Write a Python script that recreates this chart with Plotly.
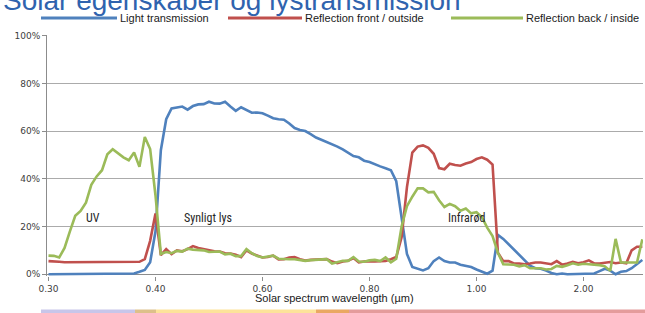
import plotly.graph_objects as go

# ---------------- data ----------------
wavelength_um = [
    0.300, 0.305, 0.310, 0.315, 0.320, 0.325, 0.330, 0.335, 0.340, 0.345,
    0.350, 0.355, 0.360, 0.365, 0.370, 0.375, 0.380, 0.385, 0.390, 0.395,
    0.40, 0.41, 0.42, 0.43, 0.44, 0.45, 0.46, 0.47, 0.48, 0.49,
    0.50, 0.51, 0.52, 0.53, 0.54, 0.55, 0.56, 0.57, 0.58, 0.59,
    0.60, 0.61, 0.62, 0.63, 0.64, 0.65, 0.66, 0.67, 0.68, 0.69,
    0.70, 0.71, 0.72, 0.73, 0.74, 0.75, 0.76, 0.77, 0.78, 0.79,
    0.80, 0.81, 0.82, 0.83, 0.84, 0.85, 0.86, 0.87, 0.88, 0.89,
    0.90, 0.91, 0.92, 0.93, 0.94, 0.95, 0.96, 0.97, 0.98, 0.99,
    1.00, 1.05, 1.10, 1.15, 1.20, 1.25, 1.30, 1.35, 1.40, 1.45,
    1.50, 1.55, 1.60, 1.65, 1.70, 1.75, 1.80, 1.85, 1.90, 1.95,
    2.00, 2.05, 2.10, 2.15, 2.20, 2.25, 2.30, 2.35, 2.40, 2.45,
    2.50, 2.55,
]

light_transmission = [
    0, 0, 0, 0, 0, 0, 0, 0, 0, 0,
    0, 0, 0, 0, 0, 0, 0.3, 1.0, 1.8, 5.0,
    18.0, 52.0, 65.0, 69.5, 70.0, 70.3, 69.0, 70.5, 71.2, 71.3,
    72.3, 71.6, 71.5, 72.3, 70.3, 68.5, 70.0, 69.0, 67.7, 67.8,
    67.5, 66.5, 65.4, 65.0, 64.8, 63.2, 61.3, 60.5, 60.0, 58.7,
    57.3, 56.4, 55.5, 54.4, 53.5, 52.3, 50.9, 49.5, 49.0, 47.6,
    47.0, 46.0, 45.2, 44.4, 43.6, 39.0, 24.0, 8.5, 3.0, 2.2,
    1.6, 2.5, 5.5, 7.0, 5.5, 4.9, 4.9, 4.0, 3.6, 3.0,
    2.0, 1.0, 0.2, 1.5, 16.5, 14.8, 12.5, 10.2, 7.8, 5.6,
    3.6, 2.5, 2.3, 1.5, 0.5, 0.0, 0.3, 0, 0, 0,
    0, 0, 0.3, 1.3, 2.3, 1.5, 0.0, 1.0, 1.3, 2.5,
    4.3, 6.0,
]

reflection_front = [
    5.5, 5.5, 5.2, 5.0, 5.0, 5.0, 5.0, 5.0, 5.0, 5.0,
    5.0, 5.0, 5.0, 5.0, 5.0, 5.0, 5.0, 5.2, 6.3, 14.0,
    25.5, 8.0, 10.5, 8.4, 10.0, 9.6, 10.5, 11.8, 11.0, 10.5,
    9.8, 9.6, 9.5, 8.8, 8.7, 8.2, 7.2, 10.0, 8.7, 7.8,
    7.0, 7.2, 7.8, 6.2, 6.3, 7.0, 7.2, 6.3, 5.7, 6.0,
    6.0, 6.0, 6.3, 5.3, 4.6, 5.3, 5.6, 6.8, 5.0, 5.3,
    5.5, 5.3, 5.3, 5.6, 6.3, 7.2, 15.5, 36.5, 51.0, 53.5,
    54.0, 53.0, 50.5, 44.5, 44.0, 46.3, 45.8, 45.5, 46.4, 47.0,
    48.3, 49.0, 48.0, 46.0, 9.0, 5.5, 5.5, 4.5, 4.5, 4.2,
    4.5, 4.9, 4.9, 4.5, 4.2, 5.5, 4.0, 4.5, 5.2, 4.6,
    5.0, 5.8, 4.5, 4.5, 4.8, 5.1, 4.6, 4.9, 4.6, 10.0,
    11.5, 11.5,
]

reflection_back = [
    7.8, 7.7, 7.0, 11.0, 18.0, 24.5, 26.5, 30.0, 37.5, 41.0,
    43.6, 50.3, 52.4, 50.5, 49.0, 47.8, 51.0, 45.0, 57.5, 52.5,
    33.0, 8.5, 9.3, 8.8, 9.8, 9.5, 10.7, 10.3, 10.0, 10.0,
    9.3, 9.5, 9.5, 8.3, 8.6, 7.6, 7.6, 10.5, 8.8, 7.6,
    7.0, 7.4, 7.8, 6.5, 6.3, 6.3, 6.3, 6.0, 5.6, 5.9,
    6.0, 6.1, 6.3, 4.5, 5.0, 5.6, 5.6, 7.2, 5.3, 5.2,
    5.8, 6.0, 5.5, 7.0, 5.0, 6.5, 20.0, 28.5, 32.5, 36.0,
    36.0, 34.3, 34.5, 31.0, 28.2, 29.5, 28.5, 26.6, 27.5, 25.5,
    26.0, 24.0, 19.5, 16.0, 9.0, 4.2, 4.1, 4.0, 3.3, 3.8,
    2.5, 2.4, 2.5, 2.0, 2.2, 3.5, 3.1, 3.8, 4.6, 4.0,
    4.4, 4.2, 4.1, 3.8, 3.3, 1.4, 14.8, 4.9, 4.9, 4.9,
    4.9, 14.6,
]

series_names = ["Light transmission", "Reflection front / outside", "Reflection back / inside"]
tick_wavelengths = [0.30, 0.40, 0.60, 0.80, 1.00, 2.00]
tick_labels = ["0.30", "0.40", "0.60", "0.80", "1.00", "2.00"]
y_ticks = [0, 20, 40, 60, 80, 100]
y_tick_labels = ["0%", "20%", "40%", "60%", "80%", "100%"]
region_labels = ["UV", "Synligt lys", "Infrarød"]
title_text = "Solar egenskaber og lystransmission"
x_title = "Solar spectrum wavelength (µm)"

# ---------------- figure ----------------
cats = [f"{w:.3f}" for w in wavelength_um]
tick_cats = [f"{w:.3f}" for w in tick_wavelengths]
colors = ["#4F81BD", "#C0504D", "#9BBB59"]
series = [light_transmission, reflection_front, reflection_back]

W, H = 645, 313
ML, MR, MT, MB = 47, 2, 35, 37
PW, PH = W - ML - MR, H - MT - MB


def px_x(px):
    return (px - ML) / PW


def px_y(py):
    return (H - MB - py) / PH


fig = go.Figure()
for name, vals, col in zip(series_names, series, colors):
    fig.add_trace(go.Scatter(x=cats, y=vals, mode="lines", name=name,
                             line=dict(color=col, width=2.6), showlegend=False))

tick_font = dict(family="DejaVu Sans", size=9, color="#404040")
axis_col = "#8c8c8c"

fig.update_layout(
    width=W, height=H,
    margin=dict(l=ML, r=MR, t=MT, b=MB),
    paper_bgcolor="white", plot_bgcolor="white",
    xaxis=dict(type="category", categoryorder="array", categoryarray=cats,
               range=[-0.28, -0.28 + PW / 5.35],
               tickmode="array", tickvals=tick_cats, ticktext=tick_labels,
               ticks="outside", ticklen=4, tickcolor=axis_col,
               showgrid=False, showline=False, zeroline=False,
               tickfont=tick_font),
    yaxis=dict(range=[-0.75, 100.29], tickmode="array", tickvals=y_ticks,
               ticktext=y_tick_labels, ticks="outside", ticklen=4, tickcolor=axis_col,
               showgrid=True, gridcolor="#ababab", gridwidth=1,
               zeroline=True, zerolinecolor=axis_col, zerolinewidth=1,
               showline=True, linecolor=axis_col, linewidth=1,
               tickfont=tick_font),
)

annotations = []
shapes = []

# cut-off title
annotations.append(dict(text=title_text, xref="paper", yref="paper",
                        x=px_x(1), y=px_y(18), xanchor="left", yanchor="bottom",
                        showarrow=False,
                        font=dict(family="Liberation Sans", size=28, color="#2F63AE")))

# manual legend
legend_px = [(41, 117), (228, 302), (451, 523)]
for (x0, x1), name, col in zip(legend_px, series_names, colors):
    shapes.append(dict(type="line", xref="paper", yref="paper",
                       x0=px_x(x0), x1=px_x(x1), y0=px_y(18), y1=px_y(18),
                       line=dict(color=col, width=3)))
    annotations.append(dict(text=name, xref="paper", yref="paper",
                            x=px_x(x1 + 1), y=px_y(18), xanchor="left", yanchor="middle",
                            showarrow=False,
                            font=dict(family="Liberation Sans", size=11, color="#1a1a1a")))

# region labels
for txt, xpos in zip(region_labels, [8.4, 29.8, 78.2]):
    annotations.append(dict(text=txt, xref="x", yref="y", x=xpos, y=23.5,
                            xanchor="center", yanchor="middle", showarrow=False,
                            font=dict(family="Liberation Sans Narrow, Roboto Condensed, Liberation Sans",
                                      size=12, color="#262626")))

# x axis title
annotations.append(dict(text=x_title, xref="paper", yref="paper",
                        x=px_x(334), y=px_y(298), xanchor="center", yanchor="middle",
                        showarrow=False,
                        font=dict(family="Liberation Sans", size=11, color="#1a1a1a")))

# spectrum colour band at the bottom
band_px = [(41, 135, "#C8C6EA"), (135, 156, "#DDC08A"), (156, 316, "#FDE39A"),
           (316, 349, "#EAA862"), (349, 645, "#E49C9C")]
for x0, x1, c in band_px:
    shapes.append(dict(type="rect", xref="paper", yref="paper",
                       x0=px_x(x0), x1=px_x(x1), y0=px_y(313), y1=px_y(309.5),
                       fillcolor=c, line=dict(width=0)))

fig.update_layout(annotations=annotations, shapes=shapes)
fig.write_html("out.html", config={"displayModeBar": False},
               post_script="document.body.style.margin='0';document.body.style.overflow='hidden';")
